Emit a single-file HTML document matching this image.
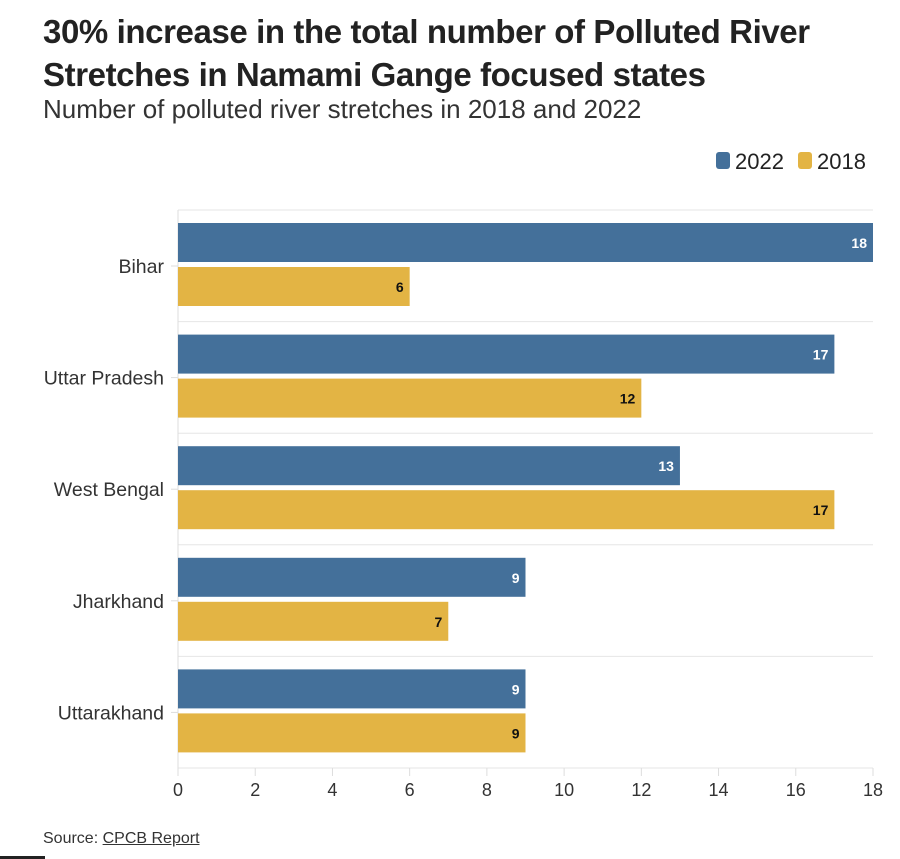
<!DOCTYPE html>
<html><head><meta charset="utf-8">
<style>
body{margin:0;width:900px;height:859px;background:#fff;font-family:"Liberation Sans",sans-serif;overflow:hidden;position:relative}
.t{position:absolute;left:43px;top:10px;font-size:33px;font-weight:bold;color:#222;line-height:43px;letter-spacing:-0.4px;white-space:nowrap}
.s{position:absolute;left:43px;top:94px;font-size:26px;color:#333;white-space:nowrap}
.src{position:absolute;left:43px;top:830px;font-size:16px;color:#333}
</style></head><body>
<div class="t">30% increase in the total number of Polluted River<br>Stretches in Namami Gange focused states</div>
<div class="s">Number of polluted river stretches in 2018 and 2022</div>
<svg id="c" width="900" height="859" style="position:absolute;left:0;top:0"></svg>
<div class="src">Source: <span style="text-decoration:underline">CPCB Report</span></div>
<div style="position:absolute;left:0;top:856px;width:45px;height:3px;background:#222"></div>
<script>
const categories=["Bihar","Uttar Pradesh","West Bengal","Jharkhand","Uttarakhand"];
const values2022=[18,17,13,9,9];
const values2018=[6,12,17,7,9];
const ticks=[0,2,4,6,8,10,12,14,16,18];
const ns="http://www.w3.org/2000/svg",svg=document.getElementById('c');
const x0=178,x1=873,max=18,top0=210,step=111.6;
const X=v=>x0+(x1-x0)*v/max;
const yAxis=top0+5*step;
function el(t,a,txt){const e=document.createElementNS(ns,t);for(const k in a)e.setAttribute(k,a[k]);if(txt!=null)e.textContent=txt;svg.appendChild(e);return e;}
for(let i=0;i<=5;i++){const g=el('line',{x1:x0,x2:x1,y1:top0+i*step,y2:top0+i*step,stroke:'#e6e6e6'});

}
ticks.forEach(t=>{const a=el('line',{x1:X(t),x2:X(t),y1:yAxis,y2:yAxis+8,stroke:'#ddd'});


const l=el('text',{x:X(t),y:796,'text-anchor':'middle','font-size':18,fill:'#333'},t);

});
const ax=el('line',{x1:x0,x2:x0,y1:top0,y2:yAxis,stroke:'#ddd'});


categories.forEach((c,i)=>{const y=top0+i*step+13;
const tk=el('line',{x1:171,x2:178,y1:y+43,y2:y+43,stroke:'#ddd'});


const lab=el('text',{x:164,y:y+50,'text-anchor':'end','font-size':19.5,fill:'#333'},c);


[[values2022[i],'#44709a','#fff',y,'bar-2022'],[values2018[i],'#e3b444','#111',y+44,'bar-2018']].forEach(([v,col,tc,yy,nm])=>{
const r=el('rect',{x:x0,y:yy,width:X(v)-x0,height:39,fill:col});


const t=el('text',{x:X(v)-6,y:yy+25,'text-anchor':'end','font-size':14,'font-weight':'bold',fill:tc},v);

});});
[[716,'#44709a','2022'],[798,'#e3b444','2018']].forEach(([x,c,t])=>{
const r=el('rect',{x:x,y:152,width:14,height:17,rx:3,fill:c});


const l=el('text',{x:x+19,y:169,'font-size':22,fill:'#222'},t);

});
</script>
</body></html>
